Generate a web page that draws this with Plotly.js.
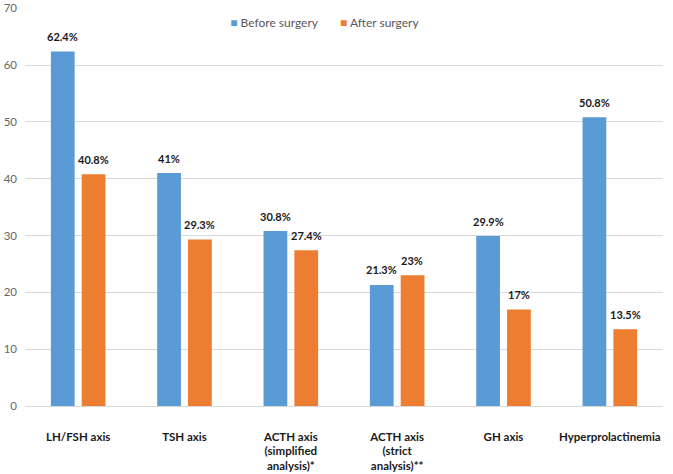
<!DOCTYPE html>
<html>
<head>
<meta charset="utf-8">
<script src="https://cdn.plot.ly/plotly-3.0.1.min.js"></script>
<style>html,body{margin:0;padding:0;background:#fff;}#chart{width:673px;height:474px;}</style>
</head>
<body>
<div id="chart"></div>
<script>
var categories = ["LH/FSH axis", "TSH axis", "ACTH axis<br>(simplified<br>analysis)*", "ACTH axis<br>(strict<br>analysis)**", "GH axis", "Hyperprolactinemia"];
var beforeSurgery = [62.4, 41, 30.8, 21.3, 29.9, 50.8];
var afterSurgery = [40.8, 29.3, 27.4, 23, 17, 13.5];
var seriesNames = ["Before surgery", "After surgery"];

var blue = "#5b9bd5", orange = "#ed7d31";
var colors = [blue, orange];
var legendIds = ["legend", "legend2"];

var traces = [
  {type: "bar", name: seriesNames[0], x: categories, y: beforeSurgery, marker: {color: blue}, hoverinfo: "none", showlegend: false},
  {type: "bar", name: seriesNames[1], x: categories, y: afterSurgery, marker: {color: orange}, hoverinfo: "none", showlegend: false}
];
for (var k = 0; k < seriesNames.length; k++) {
  traces.push({
    type: "scatter", mode: "markers", legend: legendIds[k],
    name: '<span style="color:' + colors[k] + '">\u25A0</span> ' + seriesNames[k],
    x: [null], y: [null], marker: {color: "rgba(0,0,0,0)", size: 0}
  });
}

var annotations = [];
var series = [beforeSurgery, afterSurgery];
var shifts = [-15.3, 15.3];
for (var s = 0; s < series.length; s++) {
  for (var i = 0; i < categories.length; i++) {
    annotations.push({
      x: categories[i], y: series[s][i], xref: "x", yref: "y",
      text: series[s][i] + "%", showarrow: false,
      xshift: shifts[s], yshift: 15, yanchor: "middle",
      font: {family: "Lato, sans-serif", size: 11, color: "#1a1a1a", weight: "bold"}
    });
  }
}

var legendBase = {orientation: "h", xanchor: "left", y: 0.963, yanchor: "middle",
  font: {size: 12, color: "#595959"}, itemwidth: 30, bgcolor: "rgba(0,0,0,0)"};

var layout = {
  width: 673, height: 474,
  margin: {l: 25, r: 10, t: 8, b: 68},
  paper_bgcolor: "#fff", plot_bgcolor: "#fff",
  font: {family: "Lato, sans-serif"},
  barmode: "group",
  bargap: 0.42,
  bargroupgap: 0.23,
  showlegend: true,
  legend: Object.assign({}, legendBase, {x: 0.259}),
  legend2: Object.assign({}, legendBase, {x: 0.431}),
  xaxis: {
    type: "category",
    tickfont: {size: 11.5, color: "#1a1a1a", weight: "bold"},
    showgrid: false, showline: false, ticks: "", ticklabelstandoff: 22
  },
  yaxis: {
    range: [0, 70.05], tickvals: [0, 10, 20, 30, 40, 50, 60, 70], showgrid: true, gridcolor: "#d9d9d9", gridwidth: 1,
    zeroline: true, zerolinecolor: "#d9d9d9", zerolinewidth: 1,
    tickfont: {size: 11.5, color: "#666666"}, ticks: "", showline: false, ticklabelstandoff: 7,
    ticklabeloverflow: "allow"
  },
  annotations: annotations
};

Plotly.newPlot("chart", traces, layout, {displayModeBar: false, staticPlot: true});
</script>
</body>
</html>
